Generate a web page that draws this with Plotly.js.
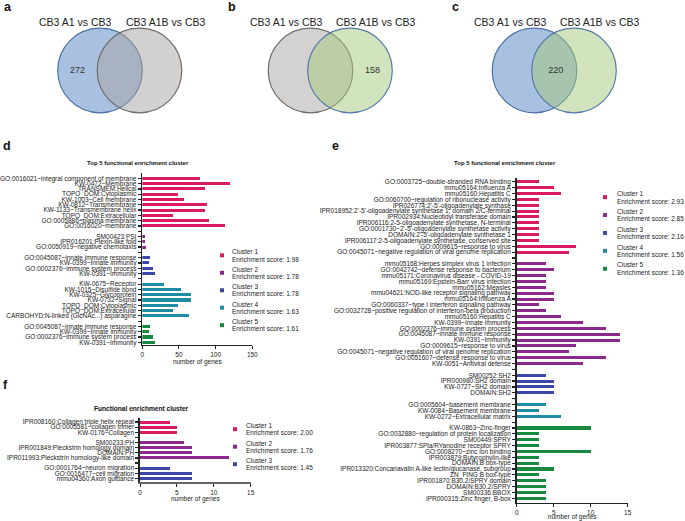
<!DOCTYPE html>
<html><head><meta charset="utf-8">
<script src="https://cdn.plot.ly/plotly-3.0.1.min.js"></script>
<style>html,body{margin:0;padding:0;background:#fff}#chart{width:685px;height:521px}</style>
</head><body><div id="chart"></div>
<script>
// ---------- DATA ----------
const vennSetNames = ['CB3 A1 vs CB3', 'CB3 A1B vs CB3'];
const vennCounts = [272, 158, 220];
const vennRegions = ['left', 'right', 'both'];

const dLabels1 = ['GO:0016021~integral component of membrane','KW-0472~Membrane','TRANSMEM:Helical','TOPO_DOM:Cytoplasmic','KW-1003~Cell membrane','KW-0812~Transmembrane','KW-1133~Transmembrane helix','TOPO_DOM:Extracellular','GO:0005886~plasma membrane','GO:0016020~membrane'];
const dValues1 = [78,119,85,48,57,88,86,42,91,113];
const dLabels2 = ['SM00423:PSI','IPR016201:Plexin-like fold','GO:0050919~negative chemotaxis'];
const dValues2 = [3,3,5];
const dLabels3 = ['GO:0045087~innate immune response','KW-0399~Innate immunity','GO:0002376~immune system process','KW-0391~Immunity'];
const dValues3 = [11,9,14,17];
const dLabels4 = ['KW-0675~Receptor','KW-1015~Disulfide bond','KW-0325~Glycoprotein','KW-0732~Signal','TOPO_DOM:Cytoplasmic','TOPO_DOM:Extracellular','CARBOHYD:N-linked (GlcNAc...) asparagine'];
const dValues4 = [30,53,66,67,48,42,63];
const dLabels5 = ['GO:0045087~innate immune response','KW-0399~Innate immunity','GO:0002376~immune system process','KW-0391~Immunity'];
const dValues5 = [11,9,14,17];
const dScores = ['1.98','1.78','1.78','1.63','1.61'];

const eLabels1 = ['GO:0003725~double-stranded RNA binding','mmu05164:Influenza A','mmu05160:Hepatitis C','GO:0060700~regulation of ribonuclease activity',"IPR026774:2'-5'-oligoadenylate synthase","IPR018952:2'-5'-oligoadenylate synthetase 1, domain 2/C-terminal",'IPR002934:Nucleotidyl transferase domain','IPR006116:2-5-oligoadenylate synthetase, N-terminal',"GO:0001730~2'-5'-oligoadenylate synthetase activity","DOMAIN:2'-5'-oligoadenylate synthetase 1",'IPR006117:2-5-oligoadenylate synthetase, conserved site','GO:0009615~response to virus','GO:0045071~negative regulation of viral genome replication'];
const eValues1 = [3,5,6,3,3,3,3,3,3,3,3,8,7];
const eLabels2 = ['mmu05168:Herpes simplex virus 1 infection','GO:0042742~defense response to bacterium','mmu05171:Coronavirus disease - COVID-19','mmu05169:Epstein-Barr virus infection','mmu05162:Measles','mmu04621:NOD-like receptor signaling pathway','mmu05164:Influenza A','GO:0060337~type I interferon signaling pathway','GO:0032728~positive regulation of interferon-beta production','mmu05160:Hepatitis C','KW-0399~Innate immunity','GO:0002376~immune system process','GO:0045087~innate immune response','KW-0391~Immunity','GO:0009615~response to virus','GO:0045071~negative regulation of viral genome replication','GO:0051607~defense response to virus','KW-0051~Antiviral defense'];
const eValues2 = [4,5,4,4,4,5,5,3,4,6,9,12,14,14,8,7,12,9];
const eLabels3 = ['SM00252:SH2','IPR000980:SH2 domain','KW-0727~SH2 domain','DOMAIN:SH2'];
const eValues3 = [4,5,5,5];
const eLabels4 = ['GO:0005604~basement membrane','KW-0084~Basement membrane','KW-0272~Extracellular matrix'];
const eValues4 = [4,3,6];
const eLabels5 = ['KW-0863~Zinc-finger','GO:0032880~regulation of protein localization','SM00449:SPRY','IPR003877:SPla/RYanodine receptor SPRY','GO:0008270~zinc ion binding','IPR003879:Butyrophylin-like','DOMAIN:B box-type','IPR013320:Concanavalin A-like lectin/glucanase, subgroup','ZN_FING:B box-type','IPR001870:B30.2/SPRY domain','DOMAIN:B30.2/SPRY','SM00336:BBOX','IPR000315:Zinc finger, B-box'];
const eValues5 = [10,3,3,3,10,3,3,5,3,4,4,4,4];
const eScores = ['2.93','2.85','2.16','1.56','1.36'];

const fLabels1 = ['IPR008160:Collagen triple helix repeat','GO:0005581~collagen trimer','KW-0176~Collagen'];
const fValues1 = [4,5,5];
const fLabels2 = ['SM00233:PH','IPR001849:Pleckstrin homology domain','DOMAIN:PH','IPR011993:Pleckstrin homology-like domain'];
const fValues2 = [6,7,7,12];
const fLabels3 = ['GO:0001764~neuron migration','GO:0016477~cell migration','mmu04360:Axon guidance'];
const fValues3 = [4,7,7];
const fScores = ['2.00','1.76','1.45'];

// ---------- STYLE / LAYOUT ----------
const W = 685, H = 521;
const FONT = 'Liberation Sans, Arial, Helvetica, sans-serif';
const clusterColors = ['#d81b62','#8b2a8c','#3d47a6','#1e8ca3','#19893f'];
const px = v => v / W;
const py = v => 1 - v / H;

const traces = [];
const shapes = [];
const annotations = [];
const layout = {
  width: W, height: H, margin: {l:0, r:0, t:0, b:0},
  paper_bgcolor: '#fff', plot_bgcolor: 'rgba(0,0,0,0)',
  font: {family: FONT, size: 6.5, color: '#222'},
  showlegend: false, bargap: 0
};

function buildPanel(clusters, xa, ya, barWidth) {
  const tickvals = [], ticktext = [];
  let row = 0;
  clusters.forEach((c, k) => {
    if (k > 0) { tickvals.push(row); ticktext.push(''); row++; }
    const ys = [];
    c[0].forEach(lab => { ys.push(row); tickvals.push(row); ticktext.push(lab); row++; });
    traces.push({type:'bar', orientation:'h', x:c[1], y:ys, xaxis:xa, yaxis:ya,
      width:barWidth, name:'Cluster ' + (k+1), showlegend:false, hoverinfo:'skip',
      marker:{color:clusterColors[k], line:{width:0}}});
  });
  return {tickvals, ticktext, rows: row};
}
function xAxis(domain, range, dtick, anchor, lineColor, labelShift) {
  return {domain, range, anchor, tickmode:'linear', tick0:0, dtick, showgrid:false, zeroline:false,
    showline:true, linecolor:lineColor, linewidth:1.4, ticks:'outside', ticklen:3, tickwidth:1, tickcolor:'#222',
    ticklabelstandoff: labelShift,
    tickfont:{size:6.5, color:'#222'}, title:{text:'number of genes', font:{size:6.5, color:'#222'}, standoff:0},
    fixedrange:true, automargin:false};
}
function yAxis(domain, range, p, anchor) {
  return {domain, range, anchor, tickmode:'array', tickvals:p.tickvals, ticktext:p.ticktext, showgrid:false,
    zeroline:false, showline:true, linecolor:'#222', linewidth:1.6, ticks:'outside', ticklen:3, tickwidth:1.2,
    tickcolor:'#222', tickfont:{size:6.5, color:'#222'}, fixedrange:true, automargin:false};
}
function addLegend(scores, mx, tx, y0, step, off, fs) {
  scores.forEach((s, k) => {
    const y = y0 + k * step, my = y + off / 2;
    shapes.push({type:'rect', xref:'paper', yref:'paper', x0:px(mx-2), x1:px(mx+2), y0:py(my+2), y1:py(my-2),
      fillcolor:clusterColors[k], line:{width:0}});
    annotations.push({xref:'paper', yref:'paper', x:px(tx), y:py(y), xanchor:'left', yanchor:'middle',
      showarrow:false, text:'Cluster ' + (k+1), font:{size:fs, color:'#222'}, borderpad:0});
    annotations.push({xref:'paper', yref:'paper', x:px(tx), y:py(y+off), xanchor:'left', yanchor:'middle',
      showarrow:false, text:'Enrichment score: ' + s, font:{size:fs, color:'#222'}, borderpad:0});
  });
}
function title(text, x, y, size) {
  annotations.push({xref:'paper', yref:'paper', x:px(x), y:py(y), xanchor:'center', yanchor:'middle',
    showarrow:false, text:'<b>' + text + '</b>', font:{size, color:'#111'}});
}
function letter(t, x, y) {
  annotations.push({xref:'paper', yref:'paper', x:px(x), y:py(y), xanchor:'center', yanchor:'middle',
    showarrow:false, text:'<b>' + t + '</b>', font:{size:12.5, color:'#111'}});
}

// ---------- PANEL d ----------
const pd = buildPanel([[dLabels1,dValues1],[dLabels2,dValues2],[dLabels3,dValues3],[dLabels4,dValues4],[dLabels5,dValues5]], 'x', 'y', 0.58);
layout.xaxis = xAxis([px(142.3), px(252.3)], [0,150], 50, 'y', '#222', 0);
layout.yaxis = yAxis([py(345), py(173.3)], [pd.rows - 1 + 0.51, -0.95], pd, 'x');
title('Top 5 functional enrichment cluster', 137.5, 163.5, 6);
addLegend(dScores, 222, 231, 251.7, 17.45, 7.3, 6.5);

// ---------- PANEL e ----------
const pe = buildPanel([[eLabels1,eValues1],[eLabels2,eValues2],[eLabels3,eValues3],[eLabels4,eValues4],[eLabels5,eValues5]], 'x2', 'y2', 0.52);
layout.xaxis2 = xAxis([px(516.7), px(627.7)], [0,15], 5, 'y2', '#222', 0);
layout.yaxis2 = yAxis([py(503), py(177.7)], [pe.rows - 1 + 0.8, -0.7], pe, 'x2');
title('Top 5 functional enrichment cluster', 505, 163.5, 6);
addLegend(eScores, 605, 616, 193.3, 17.9, 7.7, 6.5);

// ---------- PANEL f ----------
const pf = buildPanel([[fLabels1,fValues1],[fLabels2,fValues2],[fLabels3,fValues3]], 'x3', 'y3', 0.6);
layout.xaxis3 = xAxis([px(140), px(250.7)], [0,15], 5, 'y3', '#666', -2.5);
layout.yaxis3 = yAxis([py(482.3), py(417.7)], [pf.rows - 1 + 0.75, -0.85], pf, 'x3');
title('Functional enrichment cluster', 141, 408, 6.6);
addLegend(fScores, 235, 245, 425.7, 17.5, 7, 6.5);

// ---------- VENN a, b, c ----------
const vennCx = [119.75, 330.25, 554.25], vennCy = 70.5, R = 42.3, HALF = 19.75;
const BLUE = {solid:'#a9c1e0', semi:'rgba(167,192,223,0.5)', line:'#4a6fa5'};
const GRAY = {solid:'#d4d2d0', semi:'rgba(167,163,159,0.5)', line:'#6f6b69'};
const GREEN = {solid:'#d2e4bd', semi:'rgba(165,201,123,0.5)', line:'#5479a9'};
const vennColors = [[BLUE, GRAY], [GRAY, GREEN], [BLUE, GREEN]];
const regionX = {left: -(R), right: R, both: 1.5};
vennCounts.forEach((count, i) => {
  const n = i + 4, xa = 'x' + n, ya = 'y' + n;
  layout['xaxis' + n] = {domain:[px(vennCx[i]-70), px(vennCx[i]+70)], range:[-70,70], visible:false, fixedrange:true, anchor:ya};
  layout['yaxis' + n] = {domain:[py(vennCy+50), py(vennCy-50)], range:[-50,50], visible:false, fixedrange:true, anchor:xa};
  [-HALF, HALF].forEach((cx, j) => {
    const col = vennColors[i][j];
    shapes.push({type:'circle', xref:xa, yref:ya, x0:cx-R, x1:cx+R, y0:-R, y1:R, layer:'below',
      fillcolor: j === 0 ? col.solid : col.semi, line:{color:col.line, width:1.2}});
  });
  traces.push({type:'scatter', mode:'text', x:[regionX[vennRegions[i]]], y:[0], text:[String(count)],
    textfont:{size:9, color:'#333', family:FONT}, xaxis:xa, yaxis:ya, hoverinfo:'skip', showlegend:false});
  annotations.push({xref:xa, yref:ya, x:-44, y:48.5, showarrow:false, text:vennSetNames[0], xanchor:'center', yanchor:'middle', font:{size:10.5, color:'#222'}});
  annotations.push({xref:xa, yref:ya, x:46, y:48.5, showarrow:false, text:vennSetNames[1], xanchor:'center', yanchor:'middle', font:{size:10.5, color:'#222'}});
});

letter('a', 8, 7); letter('b', 232, 7); letter('c', 455, 7);
letter('d', 7, 146); letter('e', 335, 146); letter('f', 5, 385);

layout.shapes = shapes;
layout.annotations = annotations;
Plotly.newPlot('chart', traces, layout, {staticPlot:true, displayModeBar:false});
</script></body></html>
